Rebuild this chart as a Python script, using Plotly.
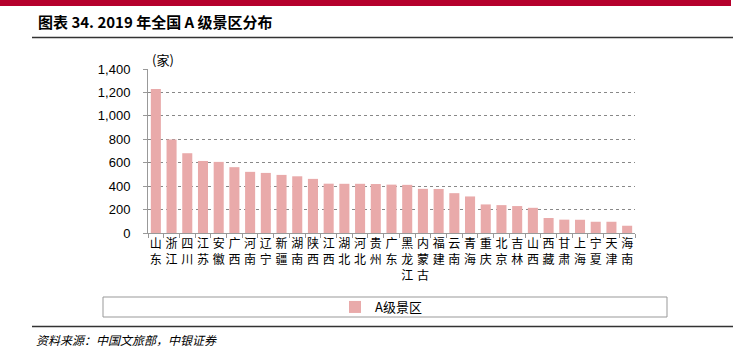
import plotly.graph_objects as go

# ---- data ----
provinces = ["山东", "浙江", "四川", "江苏", "安徽", "广西", "河南", "辽宁", "新疆", "湖南",
             "陕西", "江西", "湖北", "河北", "贵州", "广东", "黑龙江", "内蒙古", "福建", "云南",
             "青海", "重庆", "北京", "吉林", "山西", "西藏", "甘肃", "上海", "宁夏", "天津", "海南"]
scenic_counts = [1229, 798, 681, 615, 607, 562, 522, 513, 496, 484,
                 462, 421, 420, 420, 418, 413, 411, 377, 376, 340,
                 312, 244, 238, 230, 215, 128, 114, 113, 96, 96, 62]
series_name = "A级景区"
y_ticks = [0, 200, 400, 600, 800, 1000, 1200, 1400]

W, H = 745, 351
L, R, T, B = 148, 635, 69, 233  # plot area in pixels


def px(xp):
    return (xp - L) / (R - L)


def py(yp):
    return (B - yp) / (B - T)


tick_text = ["<br>".join(list(p)) for p in provinces]

fig = go.Figure()
fig.add_trace(go.Bar(
    x=provinces, y=scenic_counts, name=series_name,
    marker=dict(color="#E9AAAA", line=dict(width=0)),
    showlegend=True,
))

fig.update_layout(
    width=W, height=H,
    margin=dict(l=L, r=W - R, t=T, b=H - B, pad=0),
    paper_bgcolor="white", plot_bgcolor="white",
    bargap=0.36,
    font=dict(family="Liberation Sans, Arial, sans-serif", color="#000"),
    showlegend=True,
    legend=dict(
        x=px(381), y=py(307), xanchor="center", yanchor="middle",
        orientation="h", bgcolor="rgba(0,0,0,0)",
        font=dict(family="Noto Sans CJK SC", size=13, color="#000"),
        itemwidth=30,
    ),
    xaxis=dict(
        type="category",
        tickmode="array", tickvals=provinces, ticktext=tick_text,
        tickfont=dict(family="Noto Sans CJK SC", size=12, color="#000"),
        tickangle=0,
        showline=True, linecolor="#999", linewidth=1,
        ticks="outside", tickson="boundaries", ticklen=4, tickcolor="#999",
        showgrid=False, fixedrange=True,
    ),
    yaxis=dict(
        range=[0, 1400], tickmode="array", tickvals=y_ticks,
        tickformat=",",
        tickfont=dict(family="Liberation Sans, Arial", size=13, color="#000"),
        showline=True, linecolor="#999", linewidth=1,
        ticks="outside", ticklen=4, tickcolor="#999",
        ticklabelstandoff=10,
        showgrid=True, gridcolor="#888", griddash="dot", gridwidth=1,
        zeroline=False, fixedrange=True,
    ),
    shapes=[
        # top red band
        dict(type="rect", xref="paper", yref="paper", x0=px(0), x1=px(731), y0=py(6), y1=py(0),
             fillcolor="#B5002C", line=dict(width=0), layer="above"),
        # title underline
        dict(type="line", xref="paper", yref="paper", x0=px(32), x1=px(733), y0=py(37.5), y1=py(37.5),
             line=dict(color="#333", width=1.5)),
        # legend box
        dict(type="rect", xref="paper", yref="paper", x0=px(103), x1=px(667), y0=py(317), y1=py(297),
             line=dict(color="#999", width=1), fillcolor="rgba(0,0,0,0)"),
        # footer line
        dict(type="line", xref="paper", yref="paper", x0=px(32), x1=px(733), y0=py(326.5), y1=py(326.5),
             line=dict(color="#333", width=1.5)),
    ],
    annotations=[
        dict(text="<b>图表 34. 2019 年全国 A 级景区分布</b>", xref="paper", yref="paper",
             x=px(36), y=py(22), xanchor="left", yanchor="middle", showarrow=False,
             font=dict(family="Noto Sans CJK SC", size=15, color="#000")),
        dict(text="(家)", xref="paper", yref="paper",
             x=px(150), y=py(60), xanchor="left", yanchor="middle", showarrow=False,
             font=dict(family="Noto Sans CJK SC", size=13, color="#000")),
        dict(text="<i>资料来源：中国文旅部，中银证券</i>", xref="paper", yref="paper",
             x=px(34), y=py(339), xanchor="left", yanchor="middle", showarrow=False,
             font=dict(family="Noto Sans CJK SC", size=12, color="#000")),
    ],
)

fig.write_html("out.html")
